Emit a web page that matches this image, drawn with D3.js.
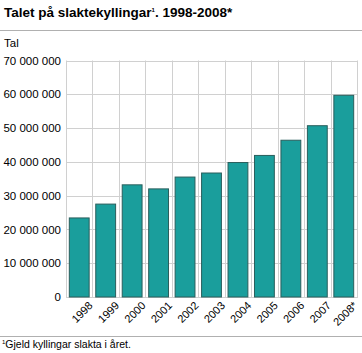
<!DOCTYPE html>
<html>
<head>
<meta charset="utf-8">
<script src="https://cdn.jsdelivr.net/npm/d3@7"></script>
<style>
  body { margin: 0; background: #fff; }
  svg { font-family: Arial, "Liberation Sans", sans-serif; }
</style>
</head>
<body>
<svg id="chart" width="362" height="353"></svg>
<script>
var years = ["1998", "1999", "2000", "2001", "2002", "2003", "2004", "2005", "2006", "2007", "2008*"];
var values = [23400000, 27500000, 33200000, 32000000, 35500000, 36700000, 39800000, 41900000, 46400000, 50700000, 59700000];
var yTicks = [0, 10000000, 20000000, 30000000, 40000000, 50000000, 60000000, 70000000];

var svg = d3.select("#chart");
var plotLeft = 66, plotRight = 357, plotTop = 60.5, plotBottom = 297;

// tittel og linjer
var title = svg.append("text").attr("x", 4).attr("y", 16.5)
    .style("font-size", "13.5px").style("font-weight", "bold").attr("fill", "#000");
title.append("tspan").text("Talet på slaktekyllingar");
title.append("tspan").attr("dy", -5).style("font-size", "6px").text("1");
title.append("tspan").attr("dy", 5).text(". 1998-2008*");
svg.append("line").attr("x1", 0).attr("x2", 362).attr("y1", 30.5).attr("y2", 30.5)
    .attr("stroke", "#b0b0b0").attr("stroke-width", 1);
svg.append("text").attr("x", 4).attr("y", 47).style("font-size", "11.5px").text("Tal");

var xScale = d3.scaleBand().domain(years).range([plotLeft, plotRight]).paddingInner(0.25).paddingOuter(0.125);
var yScale = d3.scaleLinear().domain([0, 70000000]).range([plotBottom, plotTop]);

// rutenett
var step = xScale.step();
var colLines = d3.range(years.length + 1).map(function (i) { return plotLeft + i * step; });
svg.append("g").selectAll("line").data(colLines).enter()
    .append("line")
    .attr("x1", function (d) { return Math.round(d) + 0.5; })
    .attr("x2", function (d) { return Math.round(d) + 0.5; })
    .attr("y1", plotTop).attr("y2", plotBottom)
    .attr("stroke", "#d0d0d0");
svg.append("g").selectAll("line").data(yTicks).enter()
    .append("line")
    .attr("x1", plotLeft).attr("x2", plotRight + 1)
    .attr("y1", function (d) { return Math.round(yScale(d)) + 0.5; })
    .attr("y2", function (d) { return Math.round(yScale(d)) + 0.5; })
    .attr("stroke", "#d0d0d0");

// y-akse
var fmt = function (d) { return d3.format(",")(d).replace(/,/g, " "); };
var yAxis = d3.axisLeft(yScale).tickValues(yTicks).tickFormat(fmt).tickSize(0).tickPadding(5);
var gy = svg.append("g").attr("transform", "translate(" + plotLeft + ",0)").call(yAxis);
gy.select(".domain").remove();
gy.selectAll("text").style("font-size", "11.5px").attr("fill", "#000")
    .style("font-family", "Arial, 'Liberation Sans', sans-serif");

// stolpar
svg.append("g").selectAll("rect").data(values).enter()
    .append("rect")
    .attr("x", function (d, i) { return xScale(years[i]); })
    .attr("y", function (d) { return yScale(d); })
    .attr("width", xScale.bandwidth())
    .attr("height", function (d) { return plotBottom - yScale(d); })
    .style("fill", "#1a9e9c")
    .attr("stroke", "#2a5e5c")
    .attr("stroke-width", 1);

// x-akse
var xAxis = d3.axisBottom(xScale).tickSize(0).tickPadding(0);
var gx = svg.append("g").attr("transform", "translate(0," + plotBottom + ")").call(xAxis);
gx.select(".domain").remove();
gx.selectAll("text")
    .style("font-size", "11px").attr("fill", "#000")
    .style("font-family", "Arial, 'Liberation Sans', sans-serif")
    .attr("text-anchor", "end")
    .attr("dy", "0.8em")
    .attr("transform", "translate(8,3) rotate(-45)");

// fotnote
svg.append("line").attr("x1", 0).attr("x2", 362).attr("y1", 336.5).attr("y2", 336.5)
    .attr("stroke", "#b0b0b0").attr("stroke-width", 1);
var note = svg.append("text").attr("x", 2).attr("y", 348).style("font-size", "10.5px");
note.append("tspan").attr("dy", -4).style("font-size", "6px").text("1");
note.append("tspan").attr("dy", 4).text("Gjeld kyllingar slakta i året.");
</script>
</body>
</html>
